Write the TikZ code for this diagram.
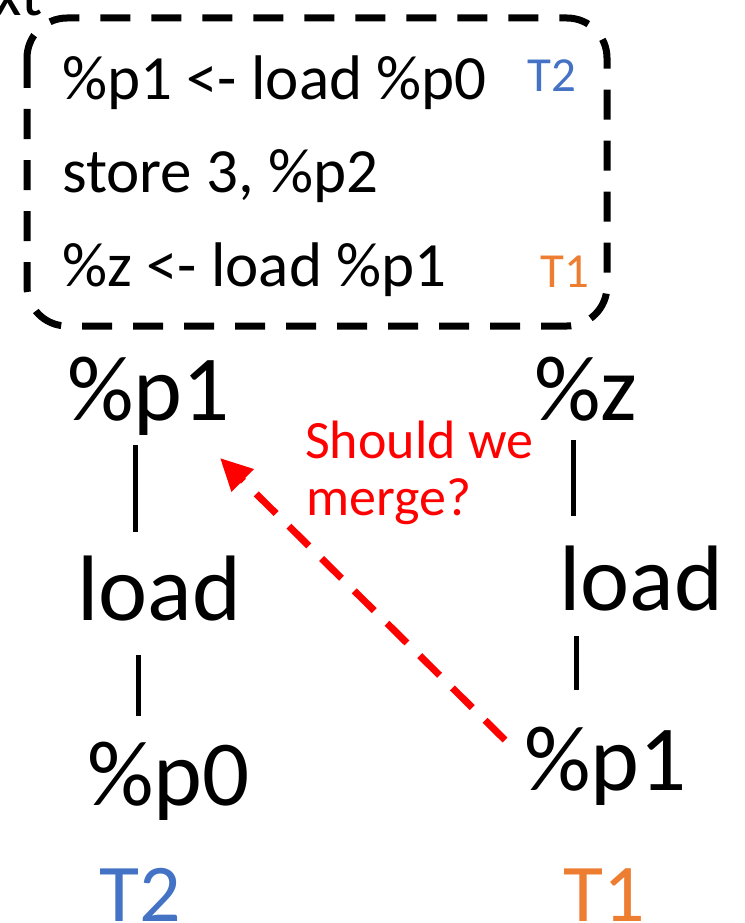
\documentclass[tikz,border=0pt]{standalone}
\usepackage{fontspec}
\setmainfont{Carlito}
\usetikzlibrary{arrows.meta}
\definecolor{tblue}{HTML}{4472C4}
\definecolor{torange}{HTML}{ED7D31}
\definecolor{tred}{HTML}{FF0000}
\tikzset{
  codetxt/.style={anchor=base west, inner sep=0pt, font=\fontsize{63}{66}\selectfont},
  tagtxt/.style={anchor=base west, inner sep=0pt, font=\fontsize{49}{52}\selectfont},
  bigtxt/.style={anchor=base west, inner sep=0pt, font=\fontsize{93}{96}\selectfont},
  threadtxt/.style={anchor=base west, inner sep=0pt, font=\fontsize{82}{84}\selectfont},
  redtxt/.style={anchor=base west, inner sep=0pt, text=tred, font=\fontsize{54}{57}\selectfont},
  edge/.style={line width=5pt},
  ctxbox/.style={line width=7pt, dash pattern=on 30pt off 21pt, rounded corners=40pt},
  mergearrow/.style={tred, line width=7pt, dash pattern=on 28pt off 18pt, -{Triangle[length=32pt,width=30pt]}}
}
\begin{document}
\begin{tikzpicture}[x=1pt,y=-1pt]
\useasboundingbox (0,0) rectangle (744,923);
% cut-off title fragment
\node[codetxt] (frag) at (-6,16) {xt};
% context box
\coordinate (boxtl) at (27,18);
\coordinate (boxbr) at (607,326);
\draw[ctxbox] (boxtl) rectangle (boxbr);
\node[codetxt] (c1) at (62,100) {\%p1 <- load \%p0};
\node[codetxt] (c2) at (62,192) {store 3, \%p2};
\node[codetxt] (c3) at (62,286) {\%z <- load \%p1};
\node[tagtxt, text=tblue] (t2s) at (527,92) {T2};
\node[tagtxt, text=torange] (t1s) at (540,287) {T1};
% left tree
\node[bigtxt] (p1L) at (67,420) {\%p1};
\node[bigtxt] (loadL) at (77,620) {load};
\node[bigtxt] (p0L) at (87,805) {\%p0};
\node[threadtxt, text=tblue] (T2) at (99,921) {T2};
\coordinate (la1) at (135,445);
\coordinate (la2) at (135,532);
\coordinate (lb1) at (138,655);
\coordinate (lb2) at (138,716);
\draw[edge] (la1) -- (la2);
\draw[edge] (lb1) -- (lb2);
% right tree
\node[bigtxt] (zR) at (534,420) {\%z};
\node[bigtxt] (loadR) at (559,610) {load};
\node[bigtxt] (p1R) at (524,790) {\%p1};
\node[threadtxt, text=torange] (T1) at (563,921) {T1};
\coordinate (ra1) at (573,440);
\coordinate (ra2) at (573,516);
\coordinate (rb1) at (576,636);
\coordinate (rb2) at (576,690);
\draw[edge] (ra1) -- (ra2);
\draw[edge] (rb1) -- (rb2);
% merge arrow
\coordinate (as) at (505,740);
\coordinate (ae) at (220,458);
\draw[mergearrow] (as) -- (ae);
\node[redtxt] (q1) at (305,458) {Should we};
\node[redtxt] (q2) at (306,515) {merge?};
\end{tikzpicture}
\end{document}
